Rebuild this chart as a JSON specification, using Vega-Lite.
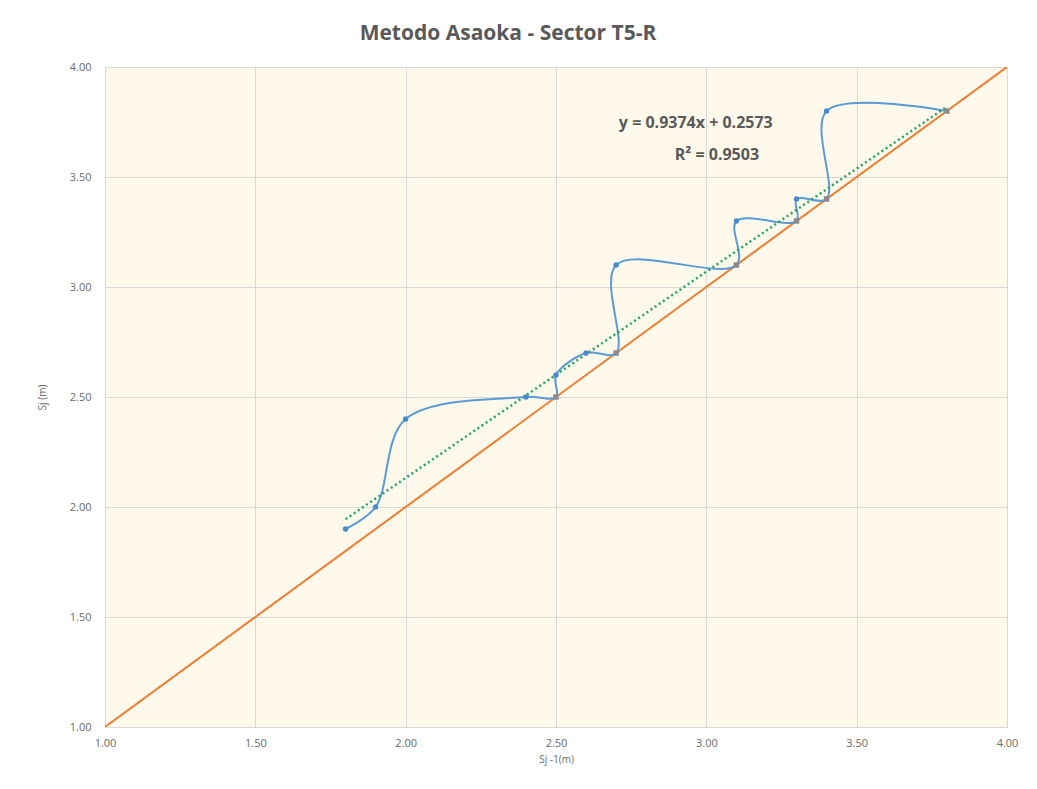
{
  "$schema": "https://vega.github.io/schema/vega-lite/v6.json",
  "width": 902,
  "height": 660,
  "autosize": "none",
  "padding": {"left": 105, "top": 67, "right": 30, "bottom": 62},
  "background": "white",
  "title": {
    "text": "Metodo Asaoka - Sector T5-R",
    "font": "Open Sans",
    "fontSize": 21,
    "fontWeight": "bold",
    "color": "#595959",
    "anchor": "middle",
    "dx": -48,
    "offset": 17
  },
  "config": {
    "view": {"fill": "#fef9ea", "stroke": "#d9d9d9"},
    "axis": {
      "labelFont": "Open Sans",
      "labelFontSize": 11,
      "labelColor": "#6b6b6b",
      "labelFlush": false,
      "titleFont": "Open Sans",
      "titleFontSize": 10,
      "titleFontWeight": "normal",
      "titleColor": "#6b6b6b",
      "gridColor": "#d9d9d9",
      "gridWidth": 1,
      "domainColor": "#d9d9d9",
      "ticks": false
    }
  },
  "datasets": {
    "asaoka": [
      {"i": 1, "prev": 1.8, "curr": 1.9, "kind": "blue"},
      {"i": 2, "prev": 1.9, "curr": 2.0, "kind": "blue"},
      {"i": 3, "prev": 2.0, "curr": 2.4, "kind": "blue"},
      {"i": 4, "prev": 2.4, "curr": 2.5, "kind": "blue"},
      {"i": 5, "prev": 2.5, "curr": 2.5, "kind": "gray"},
      {"i": 6, "prev": 2.5, "curr": 2.6, "kind": "blue"},
      {"i": 7, "prev": 2.6, "curr": 2.7, "kind": "blue"},
      {"i": 8, "prev": 2.7, "curr": 2.7, "kind": "gray"},
      {"i": 9, "prev": 2.7, "curr": 3.1, "kind": "blue"},
      {"i": 10, "prev": 3.1, "curr": 3.1, "kind": "gray"},
      {"i": 11, "prev": 3.1, "curr": 3.3, "kind": "blue"},
      {"i": 12, "prev": 3.3, "curr": 3.3, "kind": "gray"},
      {"i": 13, "prev": 3.3, "curr": 3.4, "kind": "blue"},
      {"i": 14, "prev": 3.4, "curr": 3.4, "kind": "gray"},
      {"i": 15, "prev": 3.4, "curr": 3.8, "kind": "blue"},
      {"i": 16, "prev": 3.8, "curr": 3.8, "kind": "gray"}
    ],
    "diagonal": [
      {"prev": 1.0, "curr": 1.0},
      {"prev": 4.0, "curr": 4.0}
    ],
    "trend": [
      {"prev": 1.8, "curr": 1.94462},
      {"prev": 3.8, "curr": 3.81942}
    ],
    "notes": [
      {"prev": 2.965, "curr": 3.745, "label": "y = 0.9374x + 0.2573"},
      {"prev": 3.035, "curr": 3.6, "label": "R² = 0.9503"}
    ]
  },
  "layer": [
    {
      "data": {"name": "diagonal"},
      "mark": {"type": "line", "color": "#ED7D31", "strokeWidth": 2, "clip": true},
      "encoding": {
        "x": {"field": "prev", "type": "quantitative", "scale": {"domain": [1, 4], "nice": false, "zero": false},
              "axis": {"title": "Sj -1(m)", "values": [1, 1.5, 2, 2.5, 3, 3.5, 4], "format": ".2f", "labelPadding": 10, "titlePadding": 6}},
        "y": {"field": "curr", "type": "quantitative", "scale": {"domain": [1, 4], "nice": false, "zero": false},
              "axis": {"title": "Sj (m)", "values": [1, 1.5, 2, 2.5, 3, 3.5, 4], "format": ".2f", "labelPadding": 14, "titlePadding": 22}}
      }
    },
    {
      "data": {"name": "asaoka"},
      "mark": {"type": "line", "color": "#5B9BD5", "strokeWidth": 2, "interpolate": "catmull-rom"},
      "encoding": {
        "x": {"field": "prev", "type": "quantitative"},
        "y": {"field": "curr", "type": "quantitative"},
        "order": {"field": "i", "type": "quantitative"}
      }
    },
    {
      "data": {"name": "trend"},
      "mark": {"type": "line", "color": "#1fa463", "strokeWidth": 2.5, "strokeDash": [2, 3]},
      "encoding": {
        "x": {"field": "prev", "type": "quantitative"},
        "y": {"field": "curr", "type": "quantitative"}
      }
    },
    {
      "data": {"name": "asaoka"},
      "mark": {"type": "point", "filled": true, "size": 30, "opacity": 1},
      "encoding": {
        "x": {"field": "prev", "type": "quantitative"},
        "y": {"field": "curr", "type": "quantitative"},
        "shape": {"field": "kind", "type": "nominal", "scale": {"domain": ["blue", "gray"], "range": ["circle", "square"]}, "legend": null},
        "color": {"field": "kind", "type": "nominal", "scale": {"domain": ["blue", "gray"], "range": ["#4a8ccb", "#8a8a8a"]}, "legend": null}
      }
    },
    {
      "data": {"name": "notes"},
      "mark": {"type": "text", "font": "Open Sans", "fontSize": 16, "fontWeight": "bold", "color": "#595959", "align": "center", "baseline": "middle"},
      "encoding": {
        "x": {"field": "prev", "type": "quantitative"},
        "y": {"field": "curr", "type": "quantitative"},
        "text": {"field": "label"}
      }
    }
  ]
}
